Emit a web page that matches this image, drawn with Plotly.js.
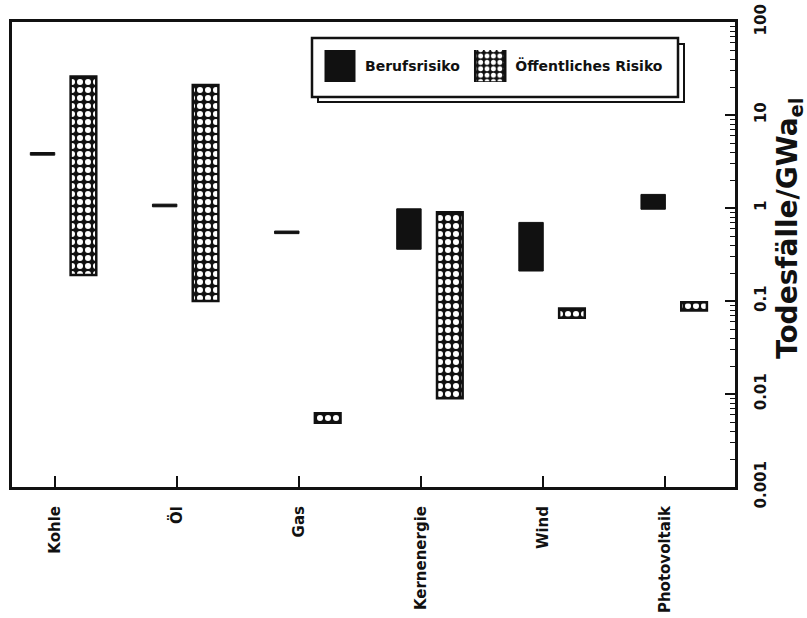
<!DOCTYPE html>
<html>
<head>
<meta charset="utf-8">
<script src="https://cdn.plot.ly/plotly-3.0.1.min.js"></script>
<style>
html,body{margin:0;padding:0;background:#fff;}
#chart{width:807px;height:618px;}
</style>
</head>
<body>
<div id="chart"></div>
<script>
// Data (deaths per GWa_el, log scale)
const categories = ['Kohle', 'Öl', 'Gas', 'Kernenergie', 'Wind', 'Photovoltaik'];
const berufLow  = [3.7, 1.03, 0.53, 0.36, 0.21, 0.97];
const berufHigh = [3.95, 1.1, 0.565, 0.98, 0.70, 1.4];
const oeffLow   = [0.19, 0.10, 0.0049, 0.009, 0.066, 0.079];
const oeffHigh  = [26, 21, 0.0062, 0.90, 0.083, 0.097];
const yTickVals = [100, 10, 1, 0.1, 0.01, 0.001];
const yTickText = ['100', '10', '1', '0.1', '0.01', '0.001'];

const FONT = 'DejaVu Sans, Arial, sans-serif';
const diff = (hi, lo) => hi.map((h, i) => h - lo[i]);

const traces = [
  {
    type: 'bar', name: 'Berufsrisiko',
    x: categories, y: diff(berufHigh, berufLow), base: berufLow,
    offset: -0.2, width: 0.2,
    marker: {color: '#111', line: {color: '#111', width: 1}},
    hoverinfo: 'skip'
  },
  {
    type: 'bar', name: 'Öffentliches Risiko',
    x: categories, y: diff(oeffHigh, oeffLow), base: oeffLow,
    offset: 0.13, width: 0.21,
    marker: {
      color: '#111',
      line: {color: '#111', width: 2.5},
      pattern: {shape: '.', bgcolor: '#111', fgcolor: '#fff', size: 8, solidity: 0.45}
    },
    hoverinfo: 'skip'
  }
];

const px = v => (v - 12) / 723;
const py = v => (487 - v) / 465;

const layout = {
  width: 807, height: 618,
  margin: {l: 12, r: 72, t: 22, b: 131},
  paper_bgcolor: '#fff', plot_bgcolor: '#fff',
  barmode: 'overlay',
  showlegend: true,
  font: {family: FONT, color: '#111'},
  xaxis: {
    type: 'category', range: [-0.35, 5.57],
    showline: true, linecolor: '#111', linewidth: 3, mirror: true,
    ticks: 'inside', ticklen: 11, tickwidth: 2, tickcolor: '#111',
    tickangle: -90, ticklabelstandoff: 10,
    tickfont: {family: FONT, size: 15, weight: 'bold', color: '#111'},
    showgrid: false, zeroline: false, fixedrange: true
  },
  yaxis: {
    type: 'log', range: [-3, 2], side: 'right',
    tickmode: 'array', tickvals: yTickVals, ticktext: yTickText,
    showline: true, linecolor: '#111', linewidth: 3, mirror: true,
    ticks: 'inside', ticklen: 10, tickwidth: 2, tickcolor: '#111',
    minor: {dtick: 'D1', ticks: 'inside', ticklen: 5, tickwidth: 1, tickcolor: '#111', showgrid: false},
    tickangle: -90, ticklabelstandoff: 10,
    tickfont: {family: FONT, size: 15, weight: 'bold', color: '#111'},
    showgrid: false, zeroline: false, fixedrange: true
  },
  legend: {
    orientation: 'h', x: px(315), xanchor: 'left', y: py(66), yanchor: 'middle',
    bgcolor: 'rgba(0,0,0,0)', borderwidth: 0,
    font: {family: FONT, size: 14, weight: 'bold', color: '#111'},
    itemwidth: 40, itemclick: false, itemdoubleclick: false
  },
  shapes: [
    {type: 'rect', xref: 'paper', yref: 'paper', layer: 'above',
     x0: px(318), x1: px(684), y0: py(102), y1: py(44),
     line: {color: '#111', width: 2}, fillcolor: '#fff'},
    {type: 'rect', xref: 'paper', yref: 'paper', layer: 'above',
     x0: px(312), x1: px(678), y0: py(97), y1: py(38),
     line: {color: '#111', width: 2.5}, fillcolor: '#fff'}
  ],
  annotations: [
    {text: 'Todesfälle/GWa<sub>el</sub>', xref: 'paper', yref: 'paper',
     x: px(789), y: py(228), xanchor: 'center', yanchor: 'middle',
     textangle: -90, showarrow: false,
     font: {family: FONT, size: 28, weight: 'bold', color: '#111'}}
  ]
};

Plotly.newPlot('chart', traces, layout, {displayModeBar: false, staticPlot: true}).then(() => {
  document.querySelectorAll('.legend .legendpoints path').forEach(p => {
    p.setAttribute('d', 'M15,17H-15V-17H15Z');
  });
});
</script>
</body>
</html>
